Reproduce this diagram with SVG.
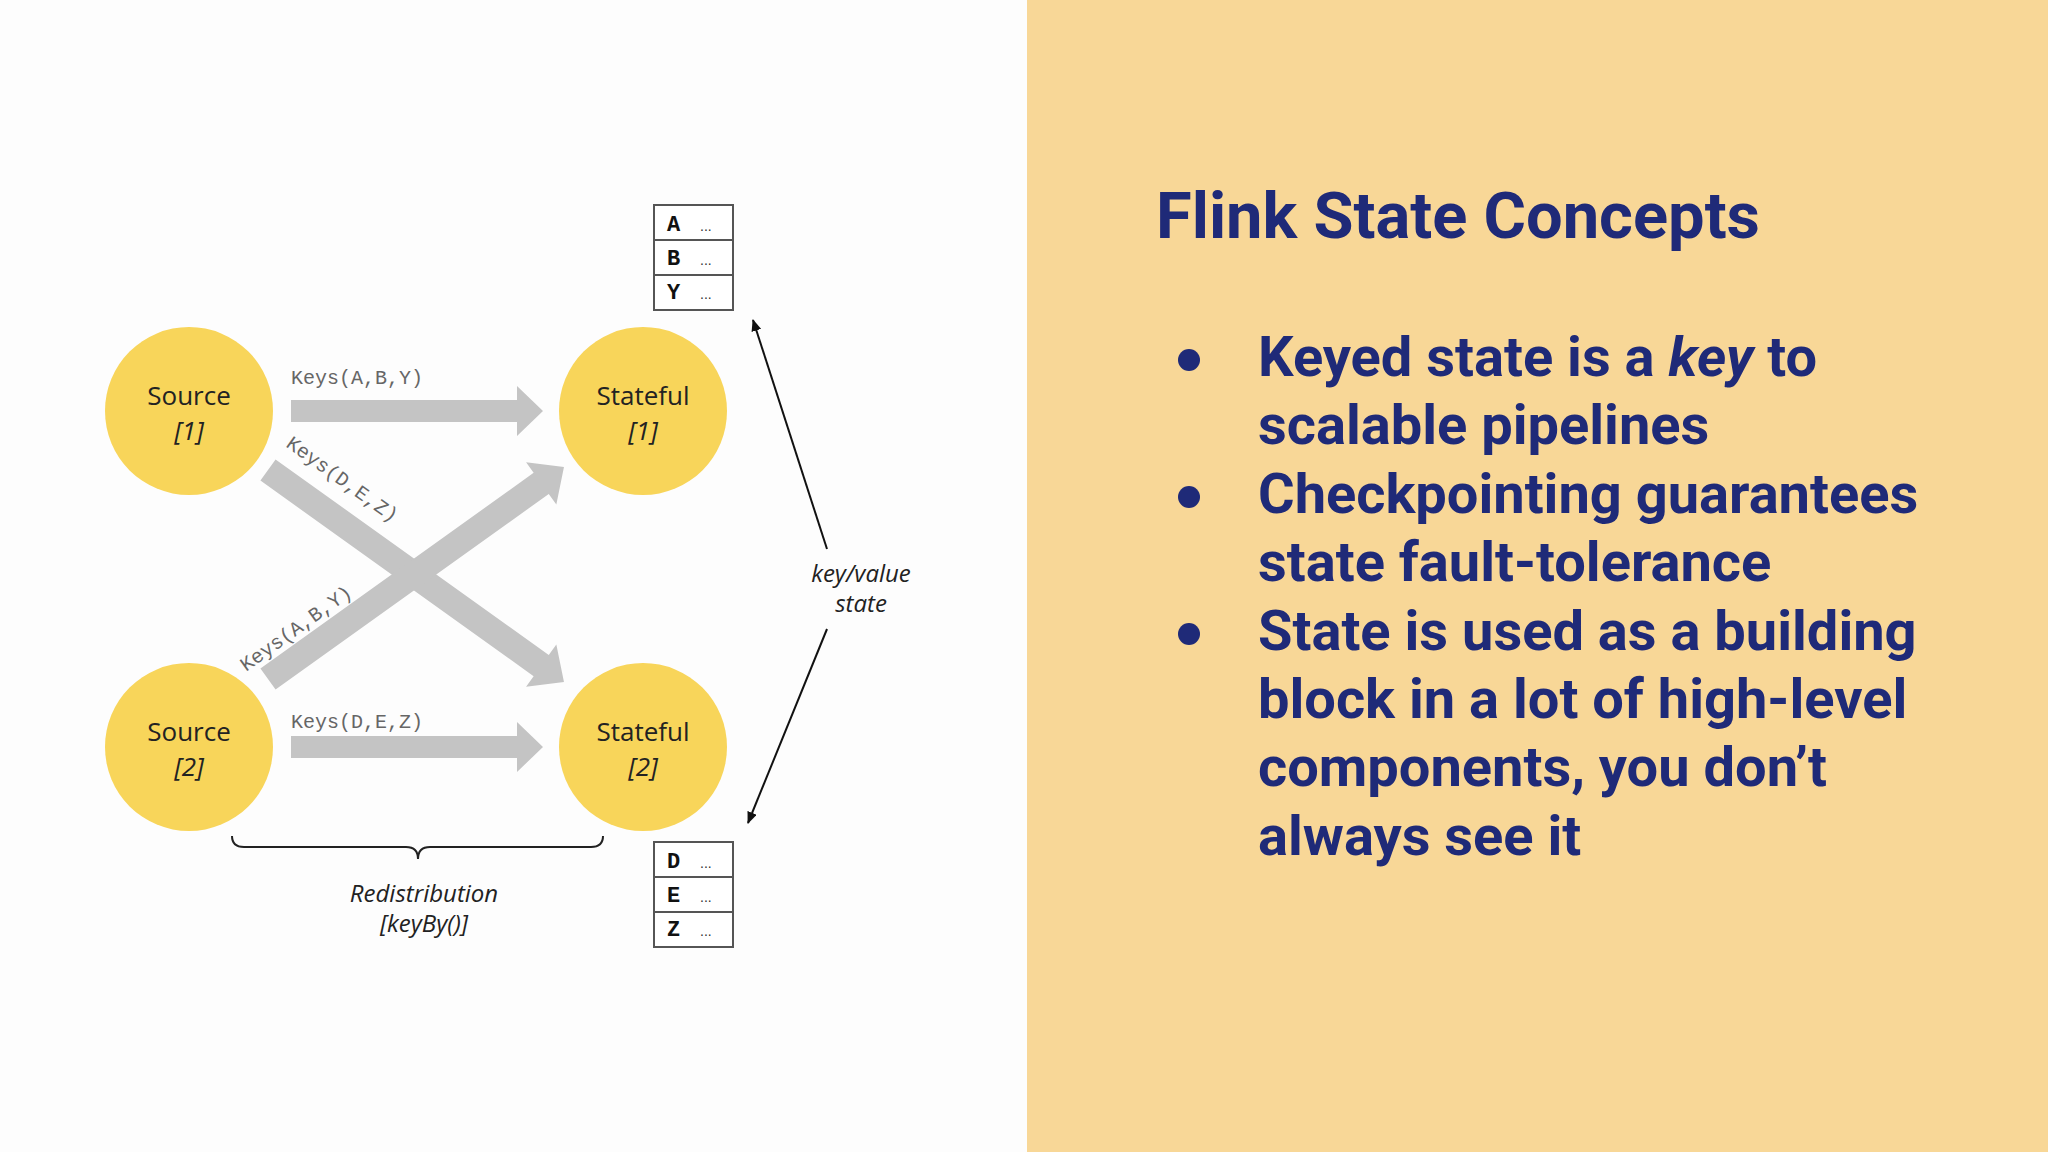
<svg xmlns="http://www.w3.org/2000/svg" width="2048" height="1152" viewBox="0 0 2048 1152">
<style>
.node{fill:#f8d55a}
.nt{font-family:"Open Sans","DejaVu Sans",sans-serif;font-size:26px;fill:#222;text-anchor:middle}
.ni{font-style:italic}
.key{font-family:"Liberation Mono","Courier New",monospace;font-size:20px;fill:#666}
.big{fill:#c4c4c4}
.cell{fill:#fff;stroke:#555;stroke-width:2}
.ct{font-family:"Liberation Mono","Courier New",monospace;font-weight:bold;font-size:22px;fill:#111}
.dots{font-family:"Liberation Sans",sans-serif;font-size:14px;fill:#333}
.lbl{font-family:"Open Sans","DejaVu Sans",sans-serif;font-style:italic;font-size:24px;fill:#222;text-anchor:middle}
.t{font-family:Roboto,"Liberation Sans",sans-serif;font-weight:bold;fill:#1f2a78}
</style>
<defs>
<marker id="ah" markerWidth="12" markerHeight="10" refX="11" refY="5" orient="auto" markerUnits="userSpaceOnUse"><path d="M0,0 L12,5 L0,10 z" fill="#111"/></marker>
</defs>
<rect width="2048" height="1152" fill="#fdfdfd"/>
<rect x="1027" y="0" width="1021" height="1152" fill="#f8d797"/>
<g id="connectors">
<path class="big" d="M291,400 H517 V386 L543,411 L517,436 V422 H291 z"/>
<path class="big" d="M291,736 H517 V722 L543,747 L517,772 V758 H291 z"/>
<g transform="translate(268,470) rotate(35.6)"><path class="big" d="M0,-13 H336 V-26 L364,0 L336,26 V13 H0 z"/></g>
<g transform="translate(268,679) rotate(-35.6)"><path class="big" d="M0,-13 H336 V-26 L364,0 L336,26 V13 H0 z"/></g>
<text class="key" x="291" y="384">Keys(A,B,Y)</text>
<text class="key" x="291" y="728">Keys(D,E,Z)</text>
<text class="key" transform="translate(285,446) rotate(35.6)">Keys(D,E,Z)</text>
<text class="key" transform="translate(246,672) rotate(-35.6)">Keys(A,B,Y)</text>
<line x1="827" y1="549" x2="753" y2="320" stroke="#111" stroke-width="2" marker-end="url(#ah)"/>
<line x1="827" y1="629" x2="748" y2="823" stroke="#111" stroke-width="2" marker-end="url(#ah)"/>
<path d="M232,836 Q232,847 244,847 H406 Q418,847 418,859 Q418,847 430,847 H591 Q603,847 603,836" fill="none" stroke="#222" stroke-width="2"/>
<text class="lbl" x="861" y="582">key/value</text>
<text class="lbl" x="861" y="612">state</text>
<text class="lbl" x="424" y="902">Redistribution</text>
<text class="lbl" x="424" y="932">[keyBy()]</text>
</g>
<g id="source1"><circle class="node" cx="189" cy="411" r="84"/><text class="nt" x="189" y="405">Source</text><text class="nt ni" x="189" y="440">[1]</text></g>
<g id="stateful1"><circle class="node" cx="643" cy="411" r="84"/><text class="nt" x="643" y="405">Stateful</text><text class="nt ni" x="643" y="440">[1]</text></g>
<g id="source2"><circle class="node" cx="189" cy="747" r="84"/><text class="nt" x="189" y="741">Source</text><text class="nt ni" x="189" y="776">[2]</text></g>
<g id="stateful2"><circle class="node" cx="643" cy="747" r="84"/><text class="nt" x="643" y="741">Stateful</text><text class="nt ni" x="643" y="776">[2]</text></g>
<g id="table1">
<rect class="cell" x="654" y="205" width="79" height="35"/><rect class="cell" x="654" y="240" width="79" height="35"/><rect class="cell" x="654" y="275" width="79" height="35"/>
<text class="ct" x="667" y="231">A</text><text class="dots" x="700" y="231">...</text>
<text class="ct" x="667" y="265">B</text><text class="dots" x="700" y="265">...</text>
<text class="ct" x="667" y="299">Y</text><text class="dots" x="700" y="299">...</text>
</g>
<g id="table2">
<rect class="cell" x="654" y="842" width="79" height="35"/><rect class="cell" x="654" y="877" width="79" height="35"/><rect class="cell" x="654" y="912" width="79" height="35"/>
<text class="ct" x="667" y="868">D</text><text class="dots" x="700" y="868">...</text>
<text class="ct" x="667" y="902">E</text><text class="dots" x="700" y="902">...</text>
<text class="ct" x="667" y="936">Z</text><text class="dots" x="700" y="936">...</text>
</g>
<g id="panel">
<text class="t" x="1156" y="238" font-size="65">Flink State Concepts</text>
<g font-size="56">
<circle cx="1189" cy="360" r="11" fill="#1f2a78"/>
<circle cx="1189" cy="497" r="11" fill="#1f2a78"/>
<circle cx="1189" cy="634" r="11" fill="#1f2a78"/>
<text class="t" x="1258" y="376">Keyed state is a <tspan font-style="italic">key</tspan> to</text>
<text class="t" x="1258" y="444">scalable pipelines</text>
<text class="t" x="1258" y="513">Checkpointing guarantees</text>
<text class="t" x="1258" y="581">state fault-tolerance</text>
<text class="t" x="1258" y="650">State is used as a building</text>
<text class="t" x="1258" y="718">block in a lot of high-level</text>
<text class="t" x="1258" y="786">components, you don’t</text>
<text class="t" x="1258" y="855">always see it</text>
</g>
</g>
</svg>
